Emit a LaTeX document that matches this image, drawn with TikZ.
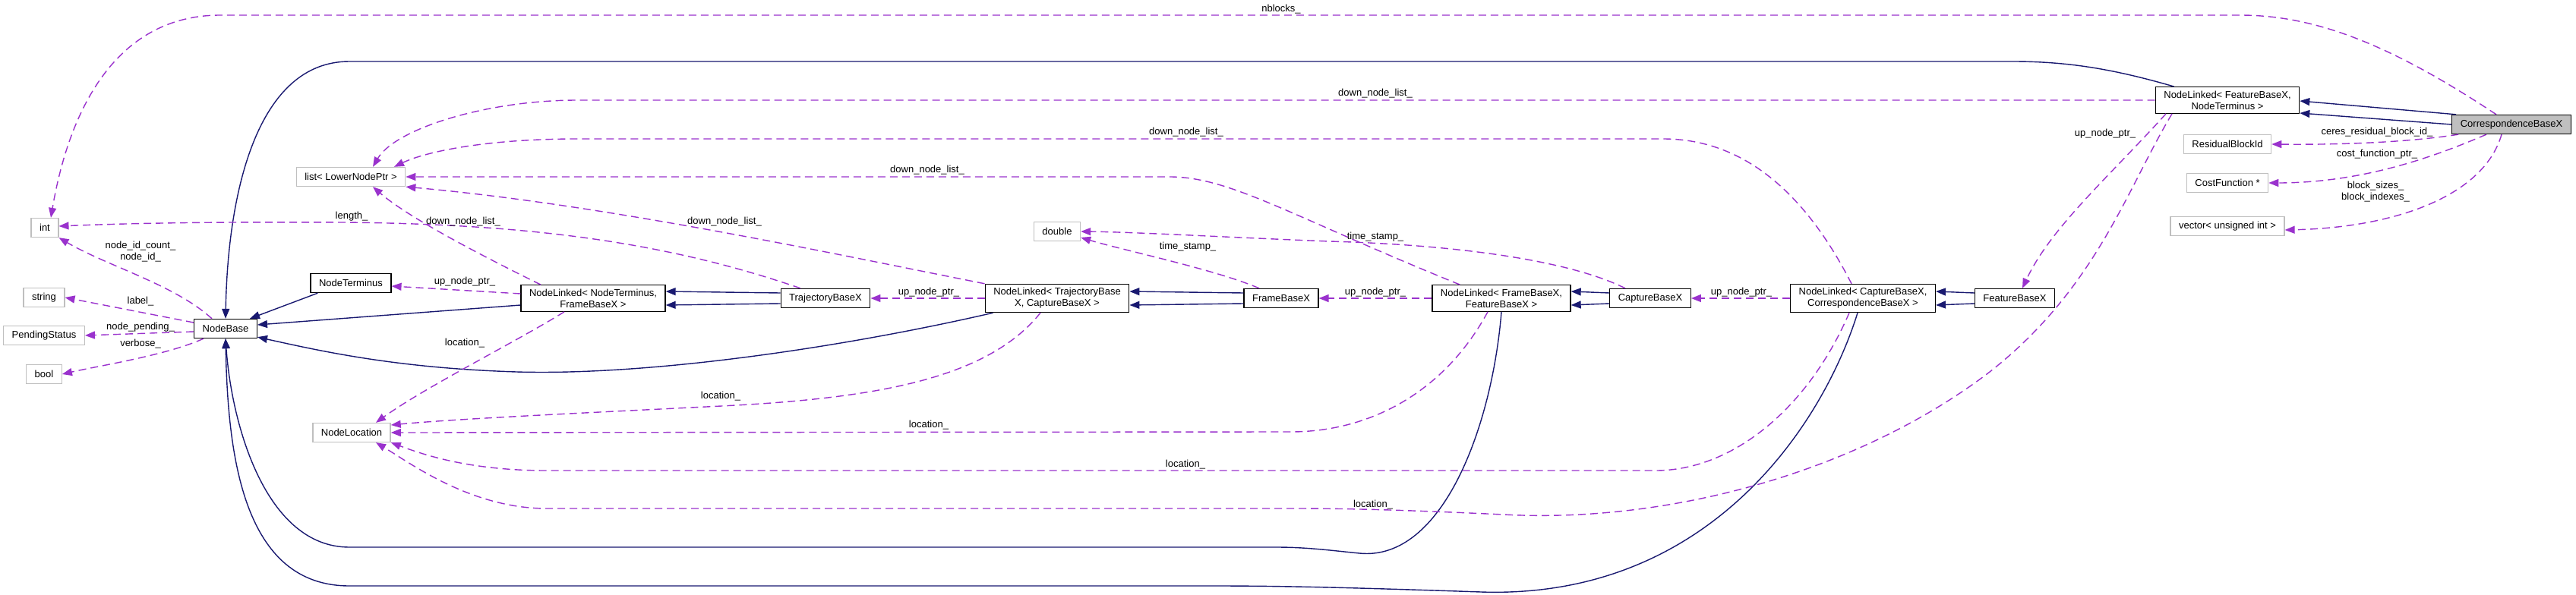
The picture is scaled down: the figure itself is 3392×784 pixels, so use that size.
\documentclass[tikz,border=0pt]{standalone}
\usepackage{fontspec}
\setmainfont{Liberation Sans}
\usetikzlibrary{arrows.meta}
\definecolor{inhcol}{HTML}{191970}
\definecolor{usecol}{HTML}{9A32CD}
\definecolor{typegrey}{HTML}{BFBFBF}

\begin{document}
\begin{tikzpicture}[x=1pt,y=-1pt,
  cls/.style={draw=black,line width=1.3pt,fill=white,align=center,inner xsep=11pt,inner ysep=5pt,minimum height=25pt,font=\fontsize{13}{15}\selectfont},
  typ/.style={cls,draw=typegrey},
  lbl/.style={font=\fontsize{13}{15}\selectfont,align=center,inner sep=1pt},
  inh/.style={inhcol,line width=1.4pt,-{Triangle[length=13pt,width=10pt]}},
  use/.style={usecol,line width=1.4pt,dash pattern=on 10pt off 6pt,-{Triangle[length=13pt,width=10pt]}},
]
  \useasboundingbox (0,0) rectangle (3392,784);

  \node[typ] (int) at (59,300) {int};
  \node[typ] (str) at (58,392) {string};
  \node[typ] (pend) at (58,442) {PendingStatus};
  \node[typ] (bool) at (58,493) {bool};
  \node[typ] (lst) at (462,233) {list< LowerNodePtr >};
  \node[typ] (nloc) at (463,570) {NodeLocation};
  \node[typ] (dbl) at (1392,305) {double};
  \node[typ] (rbi) at (2933,190) {ResidualBlockId};
  \node[typ] (cfn) at (2933,241) {CostFunction *};
  \node[typ] (vec) at (2933,298) {vector< unsigned int >};

  \node[cls] (nbase) at (297,433) {NodeBase};
  \node[cls] (nterm) at (462,373) {NodeTerminus};
  \node[cls] (nlnf) at (781,393) {NodeLinked< NodeTerminus,\\FrameBaseX >};
  \node[cls] (tbx) at (1087,393) {TrajectoryBaseX};
  \node[cls] (nltc) at (1392,393) {NodeLinked< TrajectoryBase\\X, CaptureBaseX >};
  \node[cls] (fbx) at (1687,393) {FrameBaseX};
  \node[cls] (nlff) at (1977,393) {NodeLinked< FrameBaseX,\\FeatureBaseX >};
  \node[cls] (cbx) at (2173,393) {CaptureBaseX};
  \node[cls] (nlcc) at (2453,393) {NodeLinked< CaptureBaseX,\\CorrespondenceBaseX >};
  \node[cls] (febx) at (2653,393) {FeatureBaseX};
  \node[cls] (nlfn) at (2933,132) {NodeLinked< FeatureBaseX,\\NodeTerminus >};
  \node[cls,fill=typegrey] (cor) at (3307,164) {CorrespondenceBaseX};

  % inheritance
  \draw[inh] ([xshift=10pt]nterm.south west) -- ([xshift=-10pt]nbase.north east);
  \draw[inh] ([yshift=-9pt]nlnf.west) -- ([yshift=5pt]nbase.east);
  \draw[inh] ([xshift=11pt]nltc.south west) .. controls (1100,460) and (850,495) .. (680,490) .. controls (520,485) and (420,462) .. ([yshift=2pt]nbase.south east);
  \draw[inh] ([xshift=25pt]nlfn.north west) .. controls (2780,90) and (2720,81) .. (2650,81) -- (460,81) .. controls (340,81) and (300,250) .. (nbase.north);
  \draw[inh] (nlff.south) .. controls (1965,560) and (1900,740) .. (1790,729) .. controls (1750,725) and (1720,721) .. (1680,721) -- (460,721) .. controls (350,721) and (305,560) .. (nbase.south);
  \draw[inh] ([xshift=-7pt]nlcc.south) .. controls (2400,560) and (2250,790) .. (1950,780) .. controls (1800,775) and (1700,772) .. (1600,772) -- (460,772) .. controls (320,772) and (300,600) .. (nbase.south);
  \foreach \src/\dst in {tbx/nlnf,fbx/nltc,cbx/nlff,febx/nlcc}{
    \draw[inh] ([yshift=7pt]\src.west) -- ([yshift=9pt]\dst.east);
    \draw[inh] ([yshift=-7pt]\src.west) -- ([yshift=-9pt]\dst.east);
  }
  \draw[inh] ([xshift=6pt]cor.north west) -- ([yshift=-1pt]nlfn.east);
  \draw[inh] (cor.west) -- ([yshift=-17pt]nlfn.east);

  % members
  \draw[use] ([xshift=-18pt]nbase.north) .. controls (230,375) and (140,350) .. (int.south east);
  \draw[use] ([yshift=8pt]nbase.west) -- (str.east);
  \draw[use] ([yshift=-4pt]nbase.west) -- (pend.east);
  \draw[use] ([xshift=-29pt]nbase.south) .. controls (220,468) and (130,482) .. (bool.east);
  \draw[use] ([yshift=6pt]nlnf.west) -- ([yshift=-4pt]nterm.east);
  \draw[use] ([xshift=-69pt]nlnf.north) .. controls (600,320) and (530,280) .. ([xshift=29pt]lst.south);
  \draw[use] ([xshift=-38pt]nlnf.south) .. controls (680,450) and (560,510) .. ([xshift=32pt]nloc.north);
  \draw[use] ([xshift=-33pt]tbx.north) .. controls (880,320) and (700,295) .. (450,293) .. controls (250,292) and (150,295) .. ([yshift=2pt]int.east);
  \draw[use] (nltc.west) -- (tbx.east);
  \draw[use] (nltc.north west) .. controls (1100,335) and (800,270) .. (lst.south east);
  \draw[use] ([xshift=-22pt]nltc.south) .. controls (1300,500) and (1150,525) .. (950,535) .. controls (750,545) and (600,552) .. ([yshift=10pt]nloc.east);
  \draw[use] ([xshift=-29pt]fbx.north) .. controls (1600,355) and (1480,330) .. ([yshift=-8pt]dbl.east);
  \draw[use] (nlff.west) -- (fbx.east);
  \draw[use] ([xshift=37pt]nlff.north west) .. controls (1700,285) and (1620,233) .. (1540,233) -- (lst.east);
  \draw[use] ([xshift=-18pt]nlff.south) .. controls (1900,520) and (1800,569) .. (1700,569) -- (nloc.east);
  \draw[use] ([xshift=-33pt]cbx.north) .. controls (2060,340) and (1900,322) .. (1750,318) .. controls (1600,312) and (1500,306) .. (dbl.east);
  \draw[use] (nlcc.west) -- (cbx.east);
  \draw[use] ([xshift=-15pt]nlcc.north) .. controls (2380,260) and (2300,183) .. (2190,183) -- (760,183) .. controls (640,183) and (560,200) .. ([xshift=57pt]lst.north);
  \draw[use] ([xshift=-18pt]nlcc.south) .. controls (2380,540) and (2280,620) .. (2180,620) -- (720,620) .. controls (620,620) and (560,600) .. (nloc.south east);
  \draw[use] (nlfn.west) -- (760,132) .. controls (640,132) and (520,170) .. ([xshift=29pt]lst.north);
  \draw[use] ([xshift=-81pt]nlfn.south) .. controls (2780,230) and (2700,300) .. ([xshift=10pt]febx.north);
  \draw[use] ([xshift=-73pt]nlfn.south) .. controls (2800,250) and (2760,380) .. (2620,490) .. controls (2450,620) and (2200,690) .. (1980,678) .. controls (1850,672) and (1780,670) .. (1700,670) -- (720,670) .. controls (620,670) and (540,610) .. ([xshift=32pt]nloc.south);
  \draw[use] ([xshift=-20pt]cor.north) .. controls (3150,60) and (3050,20) .. (2950,20) -- (290,20) .. controls (150,20) and (90,150) .. ([xshift=8pt]int.north);
  \draw[use] ([xshift=9pt]cor.south west) .. controls (3180,186) and (3100,191) .. (rbi.east);
  \draw[use] ([xshift=-33pt]cor.south) .. controls (3220,200) and (3120,241) .. (cfn.east);
  \draw[use] ([xshift=-13pt]cor.south) .. controls (3270,260) and (3150,300) .. ([yshift=-5pt]vec.east);

  \node[lbl] (lidcount) at (185,332) {node\_id\_count\_\\node\_id\_};
  \node[lbl] (llabel) at (185,397) {label\_};
  \node[lbl] (lpend) at (185,431) {node\_pending\_};
  \node[lbl] (lverb) at (185,453) {verbose\_};
  \node[lbl] (lup1) at (612,371) {up\_node\_ptr\_};
  \node[lbl] (lloc1) at (612,452) {location\_};
  \node[lbl] (llength) at (463,285) {length\_};
  \node[lbl] (ldown1) at (610,292) {down\_node\_list\_};
  \node[lbl] (ldown2) at (954,292) {down\_node\_list\_};
  \node[lbl] (lup2) at (1223,385) {up\_node\_ptr\_};
  \node[lbl] (lloc2) at (949,522) {location\_};
  \node[lbl] (lloc3) at (1223,560) {location\_};
  \node[lbl] (lts1) at (1564,325) {time\_stamp\_};
  \node[lbl] (lts2) at (1811,312) {time\_stamp\_};
  \node[lbl] (lup3) at (1811,385) {up\_node\_ptr\_};
  \node[lbl] (ldown3) at (1221,224) {down\_node\_list\_};
  \node[lbl] (ldown4) at (1562,174) {down\_node\_list\_};
  \node[lbl] (ldown5) at (1811,123) {down\_node\_list\_};
  \node[lbl] (lup4) at (2293,385) {up\_node\_ptr\_};
  \node[lbl] (lloc4) at (1561,612) {location\_};
  \node[lbl] (lloc5) at (1808,665) {location\_};
  \node[lbl] (lup5) at (2772,176) {up\_node\_ptr\_};
  \node[lbl] (lnblk) at (1687,12) {nblocks\_};
  \node[lbl] (lceres) at (3130,174) {ceres\_residual\_block\_id\_};
  \node[lbl] (lcost) at (3130,203) {cost\_function\_ptr\_};
  \node[lbl] (lblock) at (3128,253) {block\_sizes\_\\block\_indexes\_};
\end{tikzpicture}
\end{document}
